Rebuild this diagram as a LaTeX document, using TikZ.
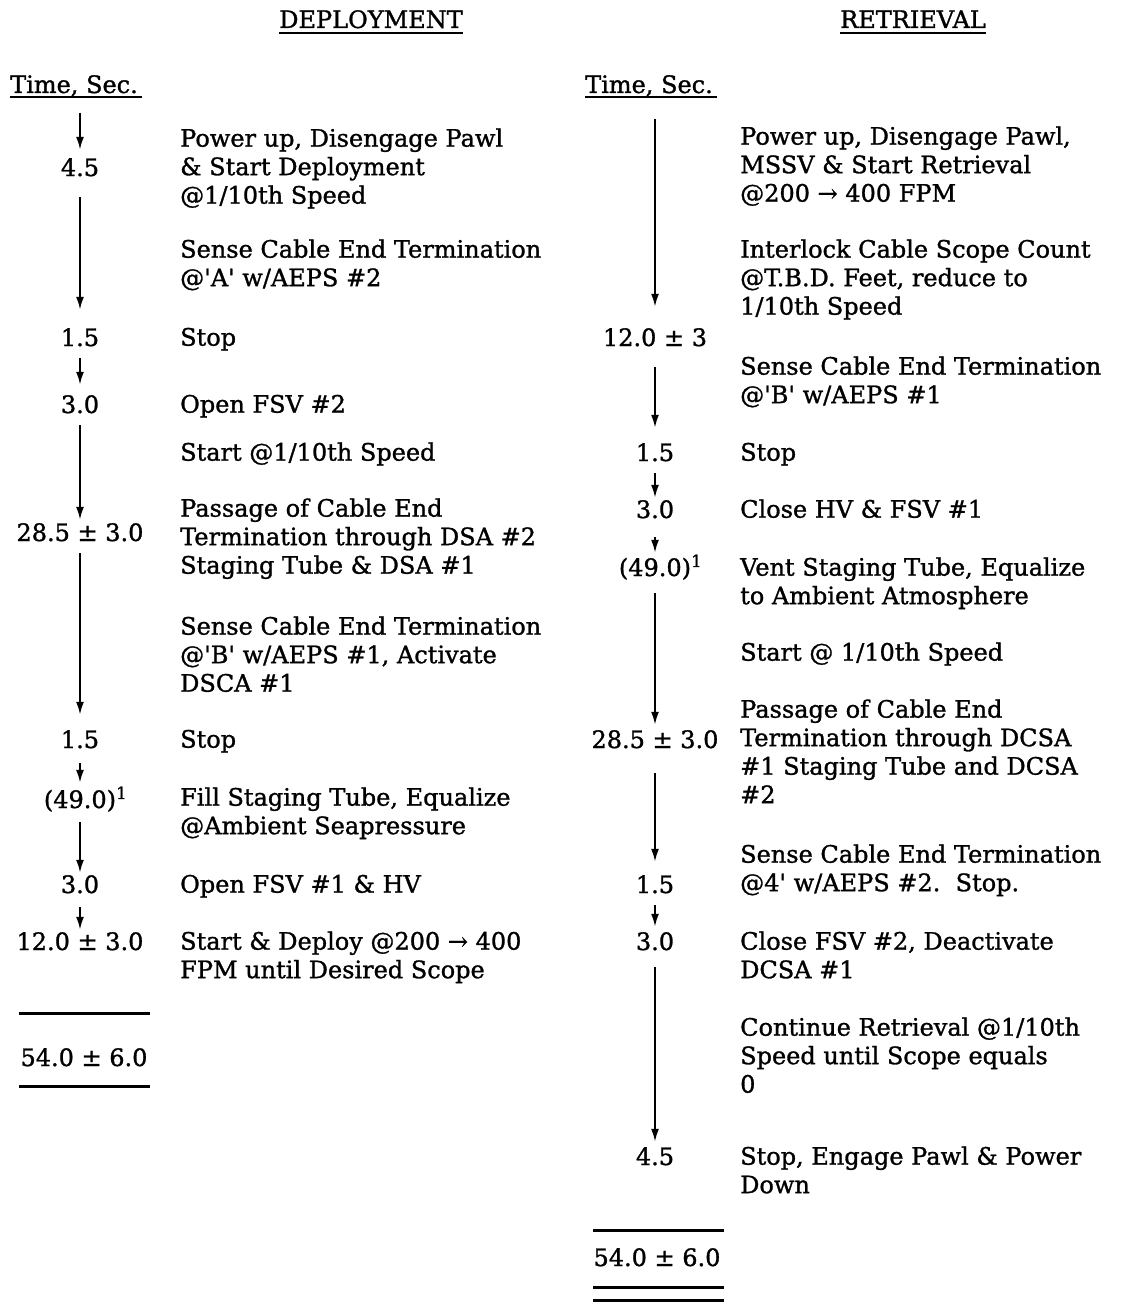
\documentclass[tikz,border=0pt]{standalone}
\usepackage{fontspec}
\setmainfont{DejaVu Serif}
\newfontfamily\heavy{DejaVu Serif}[FakeBold=1.2]
\usetikzlibrary{arrows.meta}
\newcommand\mainsz{\heavy\fontsize{24}{28.5}\selectfont}
\begin{document}
\begin{tikzpicture}[x=1pt,y=-1pt,
  txt/.style={anchor=north west, inner sep=0pt, align=left, font=\mainsz},
  tm/.style={anchor=center, inner sep=0pt, text height=16pt, text depth=0pt, font=\mainsz},
  hd/.style={anchor=center, inner sep=0pt, text height=16pt, text depth=0pt, font=\mainsz},
  flow/.style={line width=2pt, -{Latex[length=13pt,width=8pt]}},
  hrule/.style={line width=2.6pt},
  rule/.style={line width=3pt},
]
\useasboundingbox (0,0) rectangle (1129,1303);

% headings
\node[hd] (hdep) at (371,20) {DEPLOYMENT};
\draw[hrule] ([yshift=-5pt]hdep.base west) -- ([yshift=-5pt]hdep.base east);
\node[hd] (hret) at (913,20) {RETRIEVAL};
\draw[hrule] ([yshift=-5pt]hret.base west) -- ([yshift=-5pt]hret.base east);
\node[hd, anchor=west] (tl) at (10,85) {Time, Sec.};
\draw[hrule] ([yshift=-4pt]tl.base west) -- ([yshift=-4pt,xshift=4pt]tl.base east);
\node[hd, anchor=west] (tr) at (585,85) {Time, Sec.};
\draw[hrule] ([yshift=-4pt]tr.base west) -- ([yshift=-4pt,xshift=4pt]tr.base east);

% ---------------- DEPLOYMENT ----------------
\coordinate (l0) at (80,113);
\node[tm] (l1) at (80,168) {4.5};
\node[tm] (l2) at (80,338) {1.5};
\node[tm] (l3) at (80,405) {3.0};
\node[tm] (l4) at (80,533) {28.5 ± 3.0};
\node[tm] (l5) at (80,740) {1.5};
\node[tm] (l6) at (80,800) {(49.0)\rlap{\textsuperscript{1}}};
\node[tm] (l7) at (80,885) {3.0};
\node[tm] (l8) at (80,942) {12.0 ± 3.0};

\draw[flow, shorten >=10pt] (l0) -- (l1);
\draw[flow, shorten <=21pt, shorten >=20pt] (l1) -- (l2);
\draw[flow, shorten <=12pt, shorten >=12pt] (l2) -- (l3);
\draw[flow, shorten <=12pt, shorten >=5pt] (l3) -- (l4);
\draw[flow, shorten <=12pt, shorten >=17pt] (l4) -- (l5);
\draw[flow, shorten <=15pt, shorten >=9pt] (l5) -- (l6);
\draw[flow, shorten <=14pt, shorten >=4pt] (l6) -- (l7);
\draw[flow, shorten <=14pt, shorten >=4pt] (l7) -- (l8);

\node[txt] (dt1) at (180,126.5) {\strut Power up, Disengage Pawl\\\strut \& Start Deployment\\\strut @1/10th Speed};
\node[txt] (dt2) at (180,237.5) {\strut Sense Cable End Termination\\\strut @'A' w/AEPS \#2};
\node[txt] (dt3) at (180,325.5) {\strut Stop};
\node[txt] (dt4) at (180,392.5) {\strut Open FSV \#2};
\node[txt] (dt5) at (180,440.5) {\strut Start @1/10th Speed};
\node[txt] (dt6) at (180,496.5) {\strut Passage of Cable End\\\strut Termination through DSA \#2\\\strut Staging Tube \& DSA \#1};
\node[txt] (dt7) at (180,614.5) {\strut Sense Cable End Termination\\\strut @'B' w/AEPS \#1, Activate\\\strut DSCA \#1};
\node[txt] (dt8) at (180,727.5) {\strut Stop};
\node[txt] (dt9) at (180,785.5) {\strut Fill Staging Tube, Equalize\\\strut @Ambient Seapressure};
\node[txt] (dt10) at (180,872.5) {\strut Open FSV \#1 \& HV};
\node[txt] (dt11) at (180,929.5) {\strut Start \& Deploy @200 → 400\\\strut FPM until Desired Scope};

\node[tm] (sumL) at (84,1058) {54.0 ± 6.0};
\draw[rule] (19,1013) -- (150,1013);
\draw[rule] (19,1086) -- (150,1086);

% ---------------- RETRIEVAL ----------------
\coordinate (r0) at (655,119);
\node[tm] (r1) at (655,338) {12.0 ± 3};
\node[tm] (r2) at (655,453) {1.5};
\node[tm] (r3) at (655,510) {3.0};
\node[tm] (r4) at (655,568) {(49.0)\rlap{\textsuperscript{1}}};
\node[tm] (r5) at (655,740) {28.5 ± 3.0};
\node[tm] (r6) at (655,885) {1.5};
\node[tm] (r7) at (655,942) {3.0};
\node[tm] (r8) at (655,1157) {4.5};

\draw[flow, shorten >=23pt] (r0) -- (r1);
\draw[flow, shorten <=21pt, shorten >=17pt] (r1) -- (r2);
\draw[flow, shorten <=12pt, shorten >=4pt] (r2) -- (r3);
\draw[flow, shorten <=19pt, shorten >=7pt] (r3) -- (r4);
\draw[flow, shorten <=17pt, shorten >=7pt] (r4) -- (r5);
\draw[flow, shorten <=25pt, shorten >=15pt] (r5) -- (r6);
\draw[flow, shorten <=12pt, shorten >=7pt] (r6) -- (r7);
\draw[flow, shorten <=17pt, shorten >=7pt] (r7) -- (r8);

\node[txt] (rt1) at (740,124.5) {\strut Power up, Disengage Pawl,\\\strut MSSV \& Start Retrieval\\\strut @200 → 400 FPM};
\node[txt] (rt2) at (740,237.5) {\strut Interlock Cable Scope Count\\\strut @T.B.D. Feet, reduce to\\\strut 1/10th Speed};
\node[txt] (rt3) at (740,354.5) {\strut Sense Cable End Termination\\\strut @'B' w/AEPS \#1};
\node[txt] (rt4) at (740,440.5) {\strut Stop};
\node[txt] (rt5) at (740,497.5) {\strut Close HV \& FSV \#1};
\node[txt] (rt6) at (740,555.5) {\strut Vent Staging Tube, Equalize\\\strut to Ambient Atmosphere};
\node[txt] (rt7) at (740,640.5) {\strut Start @ 1/10th Speed};
\node[txt] (rt8) at (740,697.5) {\strut Passage of Cable End\\\strut Termination through DCSA\\\strut \#1 Staging Tube and DCSA\\\strut \#2};
\node[txt] (rt9) at (740,842.5) {\strut Sense Cable End Termination\\\strut @4' w/AEPS \#2.\ \ Stop.};
\node[txt] (rt10) at (740,929.5) {\strut Close FSV \#2, Deactivate\\\strut DCSA \#1};
\node[txt] (rt11) at (740,1015.5) {\strut Continue Retrieval @1/10th\\\strut Speed until Scope equals\\\strut 0};
\node[txt] (rt12) at (740,1144.5) {\strut Stop, Engage Pawl \& Power\\\strut Down};

\node[tm] (sumR) at (657,1258) {54.0 ± 6.0};
\draw[rule] (593,1230) -- (724,1230);
\draw[rule] (593,1287) -- (724,1287);
\draw[rule] (593,1300) -- (724,1300);
\end{tikzpicture}
\end{document}
